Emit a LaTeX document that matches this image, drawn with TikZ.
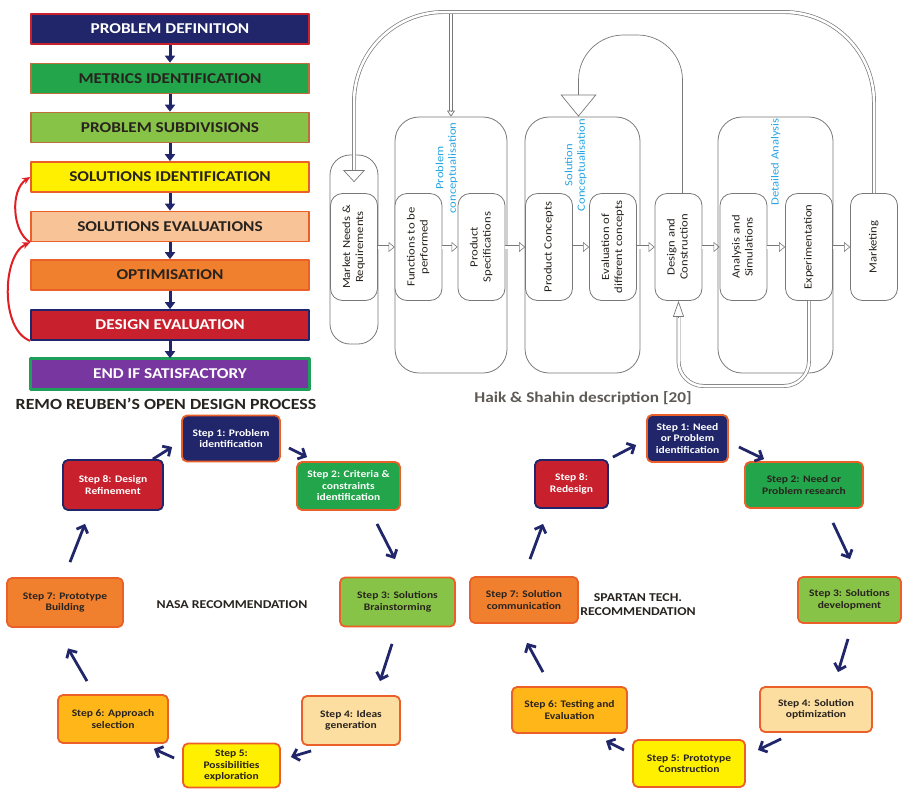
\documentclass[tikz,border=0pt]{standalone}
\usepackage{fontspec}
\setmainfont{Carlito}[FakeStretch=1.15]
\usetikzlibrary{arrows.meta, calc, positioning}

% Colours of the boxes
\definecolor{navyc}{RGB}{32,38,105}
\definecolor{redc}{RGB}{200,32,45}
\definecolor{greenc}{RGB}{35,165,75}
\definecolor{lgreenc}{RGB}{135,195,70}
\definecolor{yellowc}{RGB}{255,240,0}
\definecolor{peachc}{RGB}{248,195,150}
\definecolor{peachl}{RGB}{252,222,160}
\definecolor{orangec}{RGB}{240,128,45}
\definecolor{amberc}{RGB}{255,182,25}
\definecolor{purplec}{RGB}{120,55,160}
\definecolor{borderc}{RGB}{235,95,40}
\definecolor{brownc}{RGB}{190,110,60}
\definecolor{endgreen}{RGB}{30,160,90}
\definecolor{darkc}{RGB}{40,35,30}
\definecolor{linec}{RGB}{120,120,120}
\definecolor{bluec}{RGB}{40,165,225}
\definecolor{arrred}{RGB}{225,30,35}

% vertical (rotated) labels
\newcommand{\vlab}[1]{\rotatebox{90}{\begin{tabular}{@{}c@{}}#1\end{tabular}}}

\begin{document}
\begin{tikzpicture}[
    x=1pt, y=-1pt,
    line join = round,
    bar/.style = {draw, line width=1.6pt, minimum width=278pt, minimum height=30pt,
        inner sep=0pt, font=\fontsize{15}{17}\selectfont\bfseries},
    bar arrow/.style = {navyc, line width=3pt, -{Triangle[width=10pt, length=7pt]}},
    back arrow/.style = {arrred, line width=2pt, -{Stealth[length=8pt, width=7pt]}},
    stage/.style = {draw=linec, line width=0.8pt, fill=white, rounded corners=12pt,
        minimum width=47pt, minimum height=107pt, inner sep=0pt,
        font=\fontsize{11}{13}\selectfont, text=darkc},
    frame/.style = {draw=linec, line width=0.8pt, rounded corners=24pt, inner sep=0pt},
    tag/.style = {text=bluec, inner sep=0pt, font=\fontsize{11}{12.5}\selectfont},
    stepbox/.style = {draw, line width=1.8pt, rounded corners=5pt, align=center,
        inner sep=0pt, font=\fontsize{10}{11.5}\selectfont\bfseries},
    cyc/.style = {navyc, line width=2.8pt, -{Straight Barb[length=6pt, width=12pt]}},
    flow/.style = {draw=linec, double=white, double distance=3pt, line width=0.6pt,
        -{Triangle[open, width=10pt, length=6pt]}},
    pipe/.style = {draw=linec, double=white, double distance=2.5pt, line width=0.7pt},
    head/.style = {draw=linec, line width=0.7pt},
    ]

    % Determines the boundries
    \useasboundingbox (0,0) rectangle (903,788);

    \def\barx{170}          % centre of the left column

    % Remo Reuben column
    \foreach \n/\y/\f/\b/\t/\s in {
        pdef/29/navyc/redc/white/PROBLEM DEFINITION,
        mid/78.5/greenc/brownc/darkc/METRICS IDENTIFICATION,
        psub/127.5/lgreenc/brownc/darkc/PROBLEM SUBDIVISIONS,
        solid/177/yellowc/borderc/darkc/SOLUTIONS IDENTIFICATION,
        seval/226.5/peachc/borderc/darkc/SOLUTIONS EVALUATIONS,
        optim/275/orangec/borderc/darkc/OPTIMISATION,
        deval/325/redc/navyc/white/DESIGN EVALUATION,
        endsat/374/purplec/endgreen/white/END IF SATISFACTORY}{
        \node[bar, fill=\f, draw=\b, text=\t] (\n) at (\barx,\y) {\s};
    }
    \draw[endgreen, line width=3pt] (endsat.north west) rectangle (endsat.south east);

    \foreach \a/\b in {pdef/mid, mid/psub, psub/solid, solid/seval,
                       seval/optim, optim/deval, deval/endsat}{
        \draw[bar arrow] (\a) -- (\b);
    }

    % Going back
    \draw[back arrow] (deval.south west) .. controls (0,330) and (2,255) .. (seval.south west);
    \draw[back arrow] (seval.south west) .. controls (12,232) and (10,190) .. (solid.west);

    \node[font=\fontsize{15.5}{17}\selectfont\bfseries, text=darkc] (remo) at (166,404)
        {REMO REUBEN'S OPEN DESIGN PROCESS};

    % Haik & Shahin frames
    \node[frame, rounded corners=20pt, minimum width=48pt, minimum height=189pt] (gmkt) at (354,249.5) {};
    \node[frame, minimum width=112pt, minimum height=256pt] (gprob) at (451,245) {};
    \node[frame, minimum width=115pt, minimum height=256pt] (gsol) at (582.5,245) {};
    \node[frame, minimum width=115pt, minimum height=256pt] (gdet) at (775.5,245) {};

    % Stages
    \foreach \n/\x/\s in {
        mkt/354/{Market Needs \&\\Requirements},
        fun/418.5/{Functions to be\\performed},
        spec/481.5/{Product\\Specifications},
        conc/549/{Product Concepts},
        eval/613/{Evaluation of\\different concepts},
        dac/678.5/{Design and\\Construction},
        sim/743.5/{Analysis and\\Simulations},
        exp/809/{Experimentation},
        mark/874/{Marketing}}{
        \node[stage] (\n) at (\x,247) {\vlab{\s}};
    }

    \foreach \a/\b in {mkt/fun, fun/spec, spec/conc, conc/eval,
                       eval/dac, dac/sim, sim/exp, exp/mark}{
        \draw[flow] (\a) -- (\b);
    }

    \node[tag] (tprob) at (447,168) {\vlab{Problem\\conceptualisation}};
    \node[tag] (tsol) at (576,165) {\vlab{Solution\\Conceptualisation}};
    \node[tag] (tdet) at (776,162) {\vlab{Detailed Analysis}};

    % Loops
    \coordinate (top) at (0,12);
    \coordinate (top2) at (0,35);
    \coordinate (bot) at (0,386);
    \coordinate (mkthead) at ([shift={(0,-11)}]mkt.north);
    \coordinate (dacup) at ([shift={(4,0)}]dac.north);
    \coordinate (solin) at ([shift={(-4,0)}]gsol.north);

    \draw[pipe] (gprob.north |- top) -- ([shift={(0,-6)}]gprob.north);
    \draw[head, -{Triangle[open, width=8pt, length=6pt]}] ([shift={(0,-6)}]gprob.north) -- (gprob.north);

    \draw[pipe, rounded corners=90pt] (mark.north) -- (mark.north |- top)
        -- (mkt.north |- top) -- ([shift={(0,-12)}]mkthead);
    \draw[head, -{Triangle[open, width=22pt, length=12pt]}] ([shift={(0,-12)}]mkthead) -- (mkthead);

    \draw[head, rounded corners=45pt, -{Triangle[open, width=36pt, length=22pt]}]
        (dacup) -- (dacup |- top2) -- (solin |- top2) -- (solin);

    \draw[pipe, rounded corners=25pt] (exp.south) -- (exp.south |- bot)
        -- (dac.south |- bot) -- ([shift={(0,16)}]dac.south);
    \draw[head, -{Triangle[open, width=11pt, length=16pt]}] ([shift={(0,16)}]dac.south) -- (dac.south);

    \node[font=\fontsize{15}{17}\selectfont\bfseries, text=darkc!75] (haikcap) at (583,398)
        {Haik \& Shahin description [20]};

    % NASA cycle
    \foreach \n/\x/\y/\w/\h/\f/\b/\t/\s in {
        n1/231/438.5/98/46/navyc/borderc/white/{Step 1: Problem\\identification},
        n2/348.5/486/103/48/greenc/borderc/white/{Step 2: Criteria \&\\constraints\\identification},
        n3/397.5/602/115/49/lgreenc/borderc/darkc/{Step 3: Solutions\\Brainstorming},
        n4/351/720.5/98/49/peachl/borderc/darkc/{Step 4: Ideas\\generation},
        n5/231.5/765.5/97/44/yellowc/borderc/darkc/{Step 5:\\Possibilities\\exploration},
        n6/113/719/110/48/amberc/borderc/darkc/{Step 6: Approach\\selection},
        n7/65/602.5/116/49/orangec/borderc/darkc/{Step 7: Prototype\\Building},
        n8/113/485/100/50/redc/navyc/white/{Step 8: Design\\Refinement}}{
        \node[stepbox, fill=\f, draw=\b, text=\t, minimum width=\w pt, minimum height=\h pt] (\n) at (\x,\y) {\s};
    }
    \node[font=\fontsize{12}{14}\selectfont\bfseries, text=darkc] (nasa) at (232,605) {NASA RECOMMENDATION};

    \draw[cyc] ([shift={(-11,0)}]n8.north east) -- ([shift={(-9,8.5)}]n1.west);
    \draw[cyc] ([shift={(8,9.5)}]n1.east) -- ([shift={(11,-4)}]n2.north west);
    \draw[cyc] ([shift={(28.5,13)}]n2.south) -- ([shift={(-2.5,-17.5)}]n3.north);
    \draw[cyc] ([shift={(-5.5,16.5)}]n3.south) -- ([shift={(29,-14)}]n4.north);
    \draw[cyc] ([shift={(10,5)}]n4.south west) -- ([shift={(10,-8.5)}]n5.east);
    \draw[cyc] ([shift={(-8,-7.5)}]n5.west) -- ([shift={(-15,5)}]n6.south east);
    \draw[cyc] ([shift={(-26,-13)}]n6.north) -- ([shift={(3,20.5)}]n7.south);
    \draw[cyc] ([shift={(5,-15)}]n7.north) -- ([shift={(-28,13)}]n8.south);

    % Spartan Tech. cycle
    \foreach \n/\x/\y/\w/\h/\f/\b/\t/\s in {
        s1/687.5/438.5/81/47/navyc/borderc/white/{Step 1: Need\\or Problem\\identification},
        s2/804/485/118/46/greenc/borderc/darkc/{Step 2: Need or\\Problem research},
        s3/849.5/600/103/46/lgreenc/borderc/darkc/{Step 3: Solutions\\development},
        s4/816/709.5/112/45/peachl/borderc/darkc/{Step 4: Solution\\optimization},
        s5/689/763.5/112/47/yellowc/borderc/darkc/{Step 5: Prototype\\Construction},
        s6/569.5/710/115/46/amberc/borderc/darkc/{Step 6: Testing and\\Evaluation},
        s7/524/600/108/46/orangec/borderc/darkc/{Step 7: Solution\\communication},
        s8/571.5/484/73/48/redc/navyc/white/{Step 8:\\Redesign}}{
        \node[stepbox, fill=\f, draw=\b, text=\t, minimum width=\w pt, minimum height=\h pt] (\n) at (\x,\y) {\s};
    }
    \node[font=\fontsize{12}{14}\selectfont\bfseries, text=darkc, align=center] (spartan) at (638,605)
        {SPARTAN TECH.\\RECOMMENDATION};

    \draw[cyc] ([shift={(4,-2)}]s8.north east) -- ([shift={(-10,6.5)}]s1.west);
    \draw[cyc] ([shift={(10,8.5)}]s1.east) -- ([shift={(20,-2)}]s2.north west);
    \draw[cyc] ([shift={(29,14)}]s2.south) -- ([shift={(0.5,-17)}]s3.north);
    \draw[cyc] ([shift={(-1.5,15)}]s3.south) -- ([shift={(22,-14)}]s4.north);
    \draw[cyc] ([shift={(22,6)}]s4.south west) -- ([shift={(12,-13.5)}]s5.east);
    \draw[cyc] ([shift={(-8,-13.5)}]s5.west) -- ([shift={(-22,7)}]s6.south east);
    \draw[cyc] ([shift={(-26.5,-14)}]s6.north) -- ([shift={(3,19)}]s7.south);
    \draw[cyc] ([shift={(6,-17)}]s7.north) -- ([shift={(-28.5,15)}]s8.south);
\end{tikzpicture}
\end{document}
